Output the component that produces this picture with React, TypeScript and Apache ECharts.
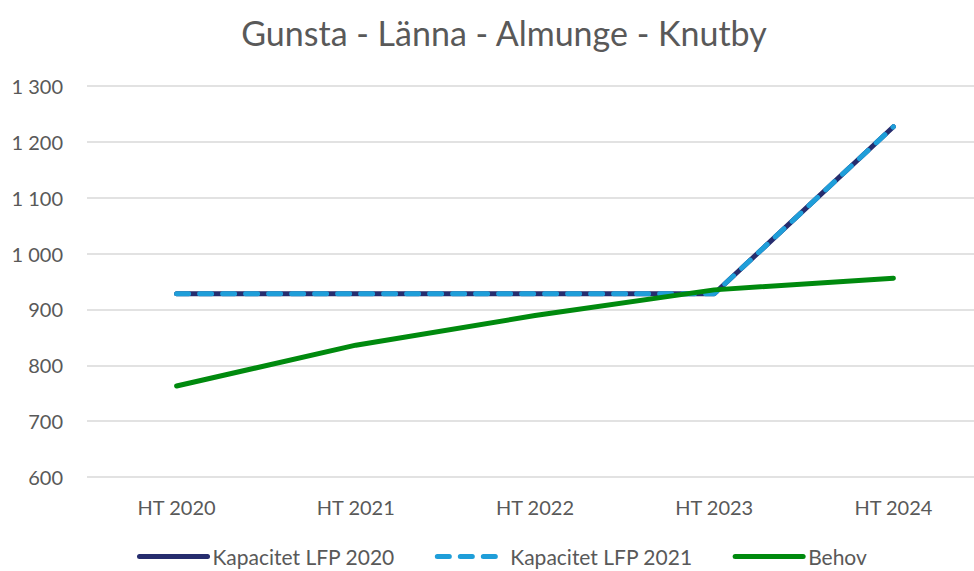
import React, { useEffect, useRef } from "react";
import * as echarts from "echarts";

const categories = ["HT 2020", "HT 2021", "HT 2022", "HT 2023", "HT 2024"];
const kapacitet2020 = [928, 928, 928, 928, 1227];
const kapacitet2021 = [928, 928, 928, 928, 1227];
const behov = [763, 836, 889, 935, 956];
const seriesNames = ["Kapacitet LFP 2020", "Kapacitet LFP 2021", "Behov"];
const titleText = "Gunsta - Länna - Almunge - Knutby";

const FONT = "Lato, 'Open Sans', sans-serif";

export default function App() {
  const ref = useRef<HTMLDivElement>(null);
  useEffect(() => {
    if (!ref.current) return;
    const chart = echarts.init(ref.current, undefined, { renderer: "svg" });
    chart.setOption({
      animation: false,
      backgroundColor: "#ffffff",
      textStyle: { fontFamily: FONT },
      title: {
        text: titleText,
        left: 499,
        textAlign: "center",
        top: 10,
        textStyle: { fontFamily: FONT, fontSize: 34, fontWeight: "normal", color: "#595959" },
      },
      legend: {
        data: seriesNames,
        left: 137,
        top: 546,
        padding: 0,
        itemWidth: 68,
        itemHeight: 14,
        itemGap: 40,
        itemStyle: { opacity: 0 },
        lineStyle: { width: 5, cap: "round" },
        textStyle: { fontFamily: FONT, fontSize: 21, color: "#595959", padding: [0, 0, 0, 0] },
      },
      grid: { left: 87, right: 0, top: 86, bottom: 94, containLabel: false },
      xAxis: {
        type: "category",
        data: categories,
        boundaryGap: true,
        axisLine: { show: false },
        axisTick: { show: false },
        axisLabel: { fontFamily: FONT, fontSize: 20, color: "#595959", margin: 20 },
      },
      yAxis: {
        type: "value",
        min: 600,
        max: 1300,
        interval: 100,
        axisLine: { show: false },
        axisTick: { show: false },
        splitLine: { lineStyle: { color: "#D9D9D9", width: 1.5 } },
        axisLabel: {
          fontFamily: FONT,
          fontSize: 20,
          color: "#595959",
          margin: 24,
          formatter: (v: number) => String(v).replace(/\B(?=(\d{3})+(?!\d))/g, " "),
        },
      },
      series: [
        {
          name: seriesNames[0],
          type: "line",
          data: kapacitet2020,
          symbol: "none",
          itemStyle: { color: "#262D6E" },
          lineStyle: { color: "#262D6E", width: 5, cap: "round", join: "round" },
        },
        {
          name: seriesNames[1],
          type: "line",
          data: kapacitet2021,
          symbol: "none",
          itemStyle: { color: "#1F9ED9" },
          lineStyle: { color: "#1F9ED9", width: 5, type: [12, 11], cap: "round", join: "round" },
        },
        {
          name: seriesNames[2],
          type: "line",
          data: behov,
          symbol: "none",
          itemStyle: { color: "#008A0E" },
          lineStyle: { color: "#008A0E", width: 5, cap: "round", join: "round" },
        },
      ],
    });
    return () => chart.dispose();
  }, []);
  return (
    <div
      ref={ref}
      style={{ position: "fixed", left: 0, top: 0, width: 983, height: 571, overflow: "hidden" }}
    />
  );
}
